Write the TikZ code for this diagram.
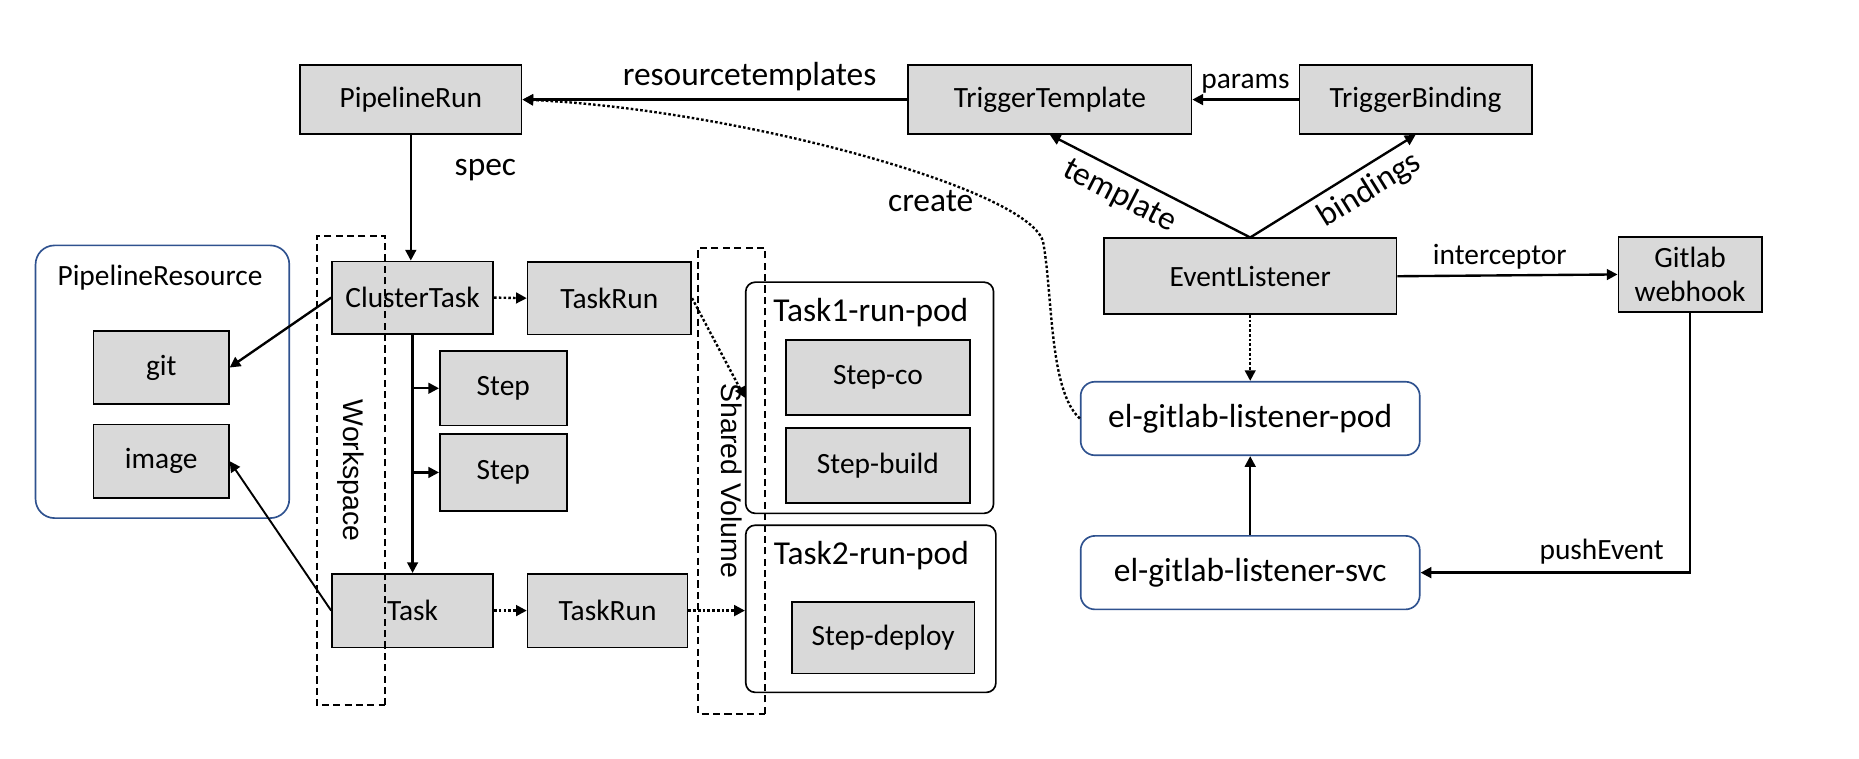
\documentclass[tikz,border=0pt]{standalone}
\usepackage{fontspec}
\setmainfont{Carlito}
\newfontfamily\volfont{Liberation Sans}
\usetikzlibrary{arrows.meta,positioning}
\definecolor{boxgray}{RGB}{217,217,217}
\definecolor{podblue}{RGB}{47,82,143}
\def\boxfont{\fontsize{12.4}{14.5}\selectfont}
\def\bigfont{\fontsize{14.1}{16}\selectfont}

\begin{document}
\begin{tikzpicture}[x=0.5pt,y=-0.5pt,
  gbox/.style={draw,line width=0.7pt,fill=boxgray,font=\boxfont,inner sep=1pt},
  podbox/.style={draw,line width=0.7pt,rounded corners=4pt},
  bluebox/.style={draw=podblue,line width=0.7pt,rounded corners=6pt,fill=white,font=\bigfont,
    minimum width=143pt,minimum height=31pt},
  dashbox/.style={draw,line width=0.8pt,dash pattern=on 3pt off 1.8pt,rotate=-90,
    font=\volfont\fontsize{12}{14}\selectfont},
  arr/.style={-{Triangle[length=4.5pt,width=4.5pt]},line width=1pt},
  dotarr/.style={arr,dash pattern=on 1.1pt off 0.9pt},
  lbl/.style={font=\bigfont,inner sep=2pt}]
\useasboundingbox (0,0) rectangle (1568,640);

% trigger side
\node[gbox,minimum width=93.5pt,minimum height=29pt] (pr) at (346.5,84) {PipelineRun};
\node[gbox,minimum width=119.5pt,minimum height=29pt] (tt) at (885.5,84) {TriggerTemplate};
\node[gbox,minimum width=98pt,minimum height=29pt] (tb) at (1194,84) {TriggerBinding};
\node[gbox,minimum width=123.5pt,minimum height=32pt] (el) at (1054.5,233) {EventListener};
\node[gbox,minimum width=60.5pt,minimum height=31.5pt,align=center] (gw) at (1425.5,231.5) {Gitlab\\webhook};
\node[bluebox] (pod) at (1054.5,353) {el-gitlab-listener-pod};
\node[bluebox] (svc) at (1054.5,483) {el-gitlab-listener-svc};

\draw[arr] (tt.west) -- node[lbl,pos=0.41,above=1pt] {resourcetemplates} (pr.east);
\draw[arr] (tb.west) -- node[lbl,font=\boxfont,above] {params} (tt.east);
\draw[arr] (el.north) -- node[lbl,pos=0.6,sloped,below=1pt] {template} (tt.south);
\draw[arr] (el.north) -- node[lbl,pos=0.65,sloped,below=1pt] {bindings} (tb.south);
\draw[arr] (el.east) -- node[lbl,font=\boxfont,pos=0.465,above] {interceptor} (gw.west);
\draw[arr] (gw.south) |- node[lbl,font=\boxfont,pos=0.664,above=1pt] {pushEvent} (svc.east);
\draw[arr] (svc.north) -- (pod.north |- pod.south);
\draw[dotarr] (el.south) -- (pod.north);
\draw[dotarr] (pod.west) .. controls (885,330) and (888,250) .. (880,205)
  .. controls (872,160) and (620,92) .. (pr.east);
\node[lbl] (create) at (785,170) {create};

% pipeline side
\node[draw=podblue,line width=0.7pt,rounded corners=8pt,minimum width=107pt,minimum height=115pt] (res) at (137,322) {};
\node[font=\boxfont] (resl) at (135,234) {PipelineResource};
\node[gbox,minimum width=57pt,minimum height=31pt] (git) at (136,310) {git};
\node[gbox,minimum width=57pt,minimum height=31pt] (image) at (136,389) {image};

\node[gbox,minimum width=68pt,minimum height=30.5pt] (ct) at (348,251) {ClusterTask};
\node[gbox,minimum width=69pt,minimum height=30.5pt] (tr1) at (514,251.5) {TaskRun};
\node[gbox,minimum width=53.5pt,minimum height=31.5pt] (s1) at (424.5,327.5) {Step};
\node[gbox,minimum width=53.5pt,minimum height=32.5pt] (s2) at (424.5,398.5) {Step};
\node[gbox,minimum width=68pt,minimum height=31pt] (task) at (348,515) {Task};
\node[gbox,minimum width=67.5pt,minimum height=31pt] (tr2) at (512.5,515) {TaskRun};

\node[podbox,minimum width=104.5pt,minimum height=97.5pt] (pod1) at (733.5,335.5) {};
\node[lbl] (pod1l) at (734.5,264) {Task1-run-pod};
\node[gbox,minimum width=77.5pt,minimum height=31.5pt] (sco) at (740.5,318.5) {Step-co};
\node[gbox,minimum width=77.5pt,minimum height=31.5pt] (sbuild) at (740.5,392.5) {Step-build};
\node[podbox,minimum width=105.5pt,minimum height=70.5pt] (pod2) at (734.5,513.5) {};
\node[lbl] (pod2l) at (735,469) {Task2-run-pod};
\node[gbox,minimum width=77pt,minimum height=30pt] (sdeploy) at (745,538) {Step-deploy};

\draw[arr] (pr.south) -- node[lbl,pos=0.28,right=16pt] {spec} (pr.south |- ct.north);
\draw[arr] (ct.south) -- (ct.south |- task.north);
\draw[arr] (ct.south |- s1.west) -- (s1.west);
\draw[arr] (ct.south |- s2.west) -- (s2.west);
\draw[arr] (ct.west) -- (git.east);
\draw[arr,line width=0.8pt] (task.west) -- (image.east);
\draw[dotarr] (ct.east) -- (tr1.west);
\draw[dotarr] (task.east) -- (tr2.west);
\draw[dotarr] (tr1.east) -- (pod1.west);
\draw[dotarr] (tr2.east) -- (tr2.east -| pod2.west);

\node[dashbox,minimum width=198pt,minimum height=29pt] (ws) at (296,397) {Workspace};
\node[dashbox,minimum width=196.5pt,minimum height=28pt] (sv) at (617,405.5) {Shared Volume};
\end{tikzpicture}
\end{document}
